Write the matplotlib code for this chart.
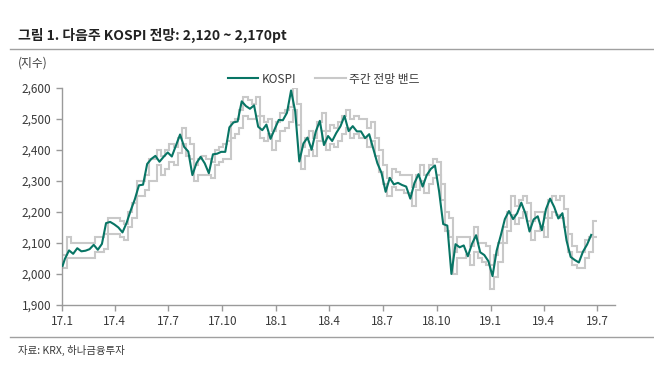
import matplotlib
matplotlib.use("Agg")
import matplotlib.pyplot as plt
import matplotlib.dates as mdates
import pandas as pd

plt.rcParams["font.family"] = ["Noto Sans CJK KR", "DejaVu Sans"]

# weekly KOSPI (Friday close), first point = 2017-01-02
kospi_start = 2026
kospi = [
    # 2017
    2049, 2076, 2065, 2083, 2073, 2075, 2080, 2094, 2078, 2097, 2164, 2168, 2160,
    2150, 2134, 2165, 2205, 2241, 2286, 2288, 2355, 2371, 2381, 2362, 2378, 2392,
    2379, 2414, 2450, 2410, 2395, 2319, 2358, 2378, 2357, 2325, 2386, 2388, 2394,
    2394, 2473, 2489, 2492, 2557, 2542, 2533, 2544, 2475, 2464, 2482, 2436, 2467,
    # 2018
    2497, 2496, 2520, 2592, 2525, 2363, 2421, 2440, 2401, 2459, 2494, 2416, 2445,
    2429, 2455, 2476, 2510, 2461, 2477, 2460, 2460, 2438, 2451, 2404, 2357, 2326,
    2265, 2310, 2289, 2294, 2287, 2282, 2243, 2293, 2322, 2282, 2319, 2339, 2350,
    2267, 2161, 2156, 2000, 2096, 2086, 2092, 2057, 2097, 2125, 2070, 2061, 2041,
    # 2019
    1993, 2075, 2124, 2177, 2203, 2177, 2196, 2230, 2195, 2137, 2176, 2186, 2141,
    2209, 2243, 2216, 2179, 2196, 2108, 2055, 2045, 2037, 2072, 2095, 2126,
]

# weekly forecast band (week starting Monday 2017-01-02 .. 2019-06-24)
band_low = [
    # 2017
    2020, 2050, 2050, 2050, 2050, 2050, 2050, 2050, 2070, 2070, 2080, 2130, 2130,
    2130, 2120, 2110, 2150, 2180, 2250, 2250, 2270, 2300, 2300, 2350, 2320, 2340,
    2360, 2350, 2390, 2420, 2380, 2370, 2300, 2320, 2320, 2320, 2310, 2350, 2360,
    2370, 2370, 2440, 2450, 2470, 2510, 2500, 2500, 2510, 2440, 2430, 2450, 2400,
    # 2018
    2430, 2460, 2470, 2490, 2530, 2480, 2340, 2380, 2400, 2380, 2430, 2460, 2400,
    2420, 2410, 2430, 2450, 2470, 2440, 2450, 2440, 2440, 2410, 2430, 2380, 2330,
    2290, 2250, 2280, 2270, 2270, 2260, 2260, 2220, 2270, 2300, 2260, 2290, 2310,
    2320, 2240, 2140, 2120, 2000, 2050, 2050, 2060, 2030, 2070, 2050, 2040, 2030,
    # 2019
    1950, 1990, 2040, 2100, 2140, 2190, 2160, 2180, 2200, 2170, 2110, 2140, 2150,
    2120, 2180, 2200, 2190, 2180, 2150, 2070, 2030, 2020, 2020, 2050, 2070, 2120,
]
band_high = [
    # 2017
    2060, 2120, 2100, 2100, 2100, 2100, 2100, 2100, 2120, 2120, 2130, 2180, 2180,
    2180, 2170, 2160, 2200, 2230, 2300, 2300, 2320, 2370, 2370, 2400, 2380, 2400,
    2420, 2410, 2440, 2470, 2440, 2420, 2350, 2370, 2380, 2370, 2360, 2400, 2410,
    2420, 2430, 2490, 2500, 2530, 2570, 2560, 2550, 2570, 2510, 2490, 2500, 2460,
    # 2018
    2490, 2520, 2530, 2540, 2600, 2550, 2410, 2440, 2460, 2440, 2490, 2520, 2460,
    2480, 2470, 2490, 2510, 2530, 2500, 2510, 2500, 2500, 2470, 2490, 2440, 2400,
    2350, 2310, 2340, 2330, 2320, 2320, 2320, 2280, 2320, 2350, 2320, 2350, 2370,
    2360, 2290, 2200, 2180, 2070, 2120, 2120, 2120, 2090, 2150, 2100, 2100, 2090,
    # 2019
    2030, 2060, 2100, 2150, 2200, 2250, 2220, 2240, 2250, 2230, 2170, 2200, 2200,
    2180, 2240, 2250, 2240, 2250, 2210, 2130, 2090, 2070, 2070, 2110, 2120, 2170,
]

tick_labels = ["17.1", "17.4", "17.7", "17.10", "18.1", "18.4", "18.7",
               "18.10", "19.1", "19.4", "19.7"]

kospi_dates = [pd.Timestamp("2017-01-02")] + list(
    pd.date_range("2017-01-06", periods=len(kospi), freq="W-FRI"))
band_edges = pd.date_range("2017-01-02", periods=len(band_low) + 1, freq="W-MON")
tick_dates = pd.date_range("2017-01-01", periods=len(tick_labels), freq="QS")

green = "#087565"
gray = "#c9c9c9"
axis_gray = "#9a9a9a"
text_col = "#3a3a3a"

fig = plt.figure(figsize=(6.54, 3.86), dpi=100)
ax = fig.add_axes([0.0948, 0.21, 0.846, 0.562])

edges = mdates.date2num(band_edges)
ax.stairs(band_high, edges, baseline=None, color=gray, lw=1.5, label="주간 전망 밴드")
ax.stairs(band_low, edges, baseline=None, color=gray, lw=1.5)
ax.plot(mdates.date2num(kospi_dates), [kospi_start] + kospi, color=green, lw=1.5,
        label="KOSPI", zorder=3)

ax.set_ylim(1900, 2600)
ax.set_yticks(range(1900, 2601, 100))
ax.set_yticklabels([f"{v:,}" for v in range(1900, 2601, 100)])
ax.set_xlim(mdates.date2num(pd.Timestamp("2017-01-01")),
            mdates.date2num(pd.Timestamp("2019-08-01")))
ax.set_xticks(mdates.date2num(tick_dates))
ax.set_xticklabels(tick_labels)

for side in ["top", "right"]:
    ax.spines[side].set_visible(False)
for side in ["left", "bottom"]:
    ax.spines[side].set_color(axis_gray)
    ax.spines[side].set_linewidth(1.0)
ax.tick_params(axis="both", colors=axis_gray, labelcolor=text_col, labelsize=8.5,
               length=4, width=1.0, direction="out")

handles, labels = ax.get_legend_handles_labels()
ax.legend(handles[::-1], labels[::-1], loc="upper left", bbox_to_anchor=(0.28, 1.12),
          ncol=2, frameon=False, fontsize=8.5, handlelength=2.6, columnspacing=1.6,
          handletextpad=0.3, labelcolor=text_col)

fig.text(0.027, 0.907, "그림 1. 다음주 KOSPI 전망: 2,120 ~ 2,170pt", fontsize=10,
         fontweight="bold", color="#222222", va="center")
fig.text(0.027, 0.838, "(지수)", fontsize=8.5, color=text_col, va="center")
fig.text(0.027, 0.093, "자료: KRX, 하나금융투자", fontsize=7.5, color=text_col, va="center")

fig.add_artist(plt.Line2D([0.015, 1.0], [0.872, 0.872], color="#a0a0a0", lw=1.0))
fig.add_artist(plt.Line2D([0.015, 1.0], [0.128, 0.128], color="#a0a0a0", lw=1.0))

fig.savefig("out.png", dpi=100)
